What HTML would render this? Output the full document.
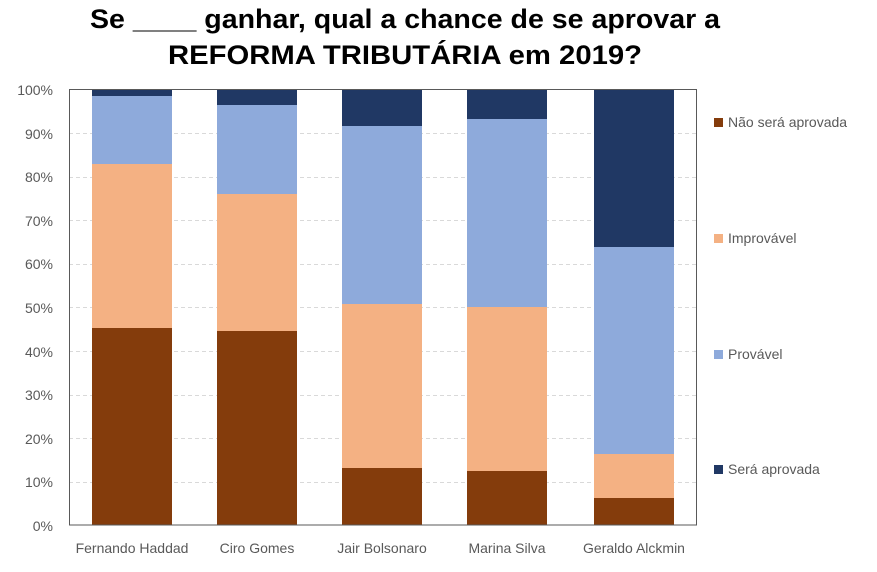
<!DOCTYPE html>
<html><head><meta charset="utf-8"><style>body{margin:0;background:#fff}svg{display:block}</style></head><body>
<svg width="877" height="572" xmlns="http://www.w3.org/2000/svg" font-family="Liberation Sans, sans-serif">
<text x="405" y="28" text-anchor="middle" font-size="27" font-weight="bold" fill="#000" textLength="630" lengthAdjust="spacingAndGlyphs">Se ____ ganhar, qual a chance de se aprovar a</text>
<text x="405" y="64" text-anchor="middle" font-size="27" font-weight="bold" fill="#000" textLength="474" lengthAdjust="spacingAndGlyphs">REFORMA TRIBUTÁRIA em 2019?</text>
<g stroke="#d9d9d9" stroke-dasharray="4,3" stroke-width="1">
<line x1="69" x2="697" y1="133.5" y2="133.5"/><line x1="69" x2="697" y1="177.5" y2="177.5"/><line x1="69" x2="697" y1="220.5" y2="220.5"/><line x1="69" x2="697" y1="264.5" y2="264.5"/><line x1="69" x2="697" y1="307.5" y2="307.5"/><line x1="69" x2="697" y1="351.5" y2="351.5"/><line x1="69" x2="697" y1="395.5" y2="395.5"/><line x1="69" x2="697" y1="438.5" y2="438.5"/><line x1="69" x2="697" y1="482.5" y2="482.5"/>
</g>
<g>
<rect x="92" y="89" width="80" height="7" fill="#203864"/><rect x="92" y="96" width="80" height="68" fill="#8eaadb"/><rect x="92" y="164" width="80" height="164" fill="#f4b183"/><rect x="92" y="328" width="80" height="197" fill="#843c0c"/>
<rect x="217" y="89" width="80" height="16" fill="#203864"/><rect x="217" y="105" width="80" height="89" fill="#8eaadb"/><rect x="217" y="194" width="80" height="137" fill="#f4b183"/><rect x="217" y="331" width="80" height="194" fill="#843c0c"/>
<rect x="342" y="89" width="80" height="37" fill="#203864"/><rect x="342" y="126" width="80" height="178" fill="#8eaadb"/><rect x="342" y="304" width="80" height="164" fill="#f4b183"/><rect x="342" y="468" width="80" height="57" fill="#843c0c"/>
<rect x="467" y="89" width="80" height="30" fill="#203864"/><rect x="467" y="119" width="80" height="188" fill="#8eaadb"/><rect x="467" y="307" width="80" height="164" fill="#f4b183"/><rect x="467" y="471" width="80" height="54" fill="#843c0c"/>
<rect x="594" y="89" width="80" height="158" fill="#203864"/><rect x="594" y="247" width="80" height="207" fill="#8eaadb"/><rect x="594" y="454" width="80" height="44" fill="#f4b183"/><rect x="594" y="498" width="80" height="27" fill="#843c0c"/>
</g>
<rect x="69.5" y="89.5" width="627" height="435.5" fill="none" stroke="#595959" stroke-width="1"/>
<g font-size="14" fill="#595959" text-anchor="end">
<text x="53" y="95">100%</text><text x="53" y="139">90%</text><text x="53" y="182">80%</text><text x="53" y="226">70%</text><text x="53" y="269">60%</text><text x="53" y="313">50%</text><text x="53" y="357">40%</text><text x="53" y="400">30%</text><text x="53" y="444">20%</text><text x="53" y="487">10%</text><text x="53" y="531">0%</text>
</g>
<g font-size="14" fill="#595959" text-anchor="middle">
<text x="132" y="553">Fernando Haddad</text><text x="257" y="553">Ciro Gomes</text><text x="382" y="553">Jair Bolsonaro</text><text x="507" y="553">Marina Silva</text><text x="634" y="553">Geraldo Alckmin</text>
</g>
<g font-size="14" fill="#595959">
<rect x="714" y="118" width="9" height="9" fill="#843c0c"/><text x="728" y="127">Não será aprovada</text>
<rect x="714" y="234" width="9" height="9" fill="#f4b183"/><text x="728" y="243">Improvável</text>
<rect x="714" y="350" width="9" height="9" fill="#8eaadb"/><text x="728" y="359">Provável</text>
<rect x="714" y="465" width="9" height="9" fill="#203864"/><text x="728" y="474">Será aprovada</text>
</g>
</svg>
</body></html>
